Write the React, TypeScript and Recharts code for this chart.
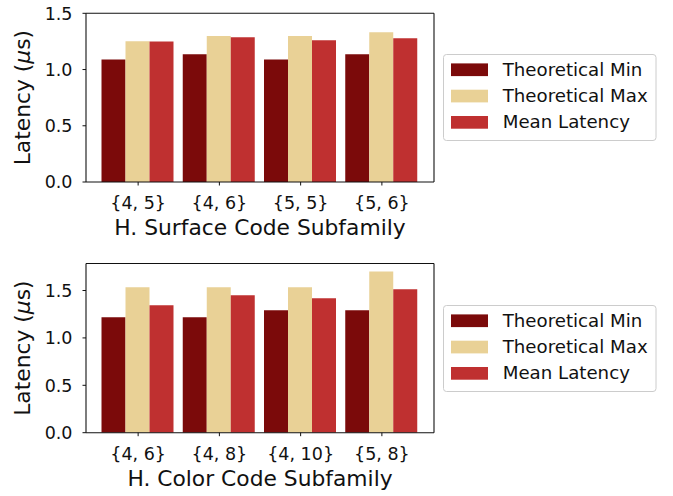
import React from "react";
import { BarChart, Bar, XAxis, YAxis } from "recharts";

const SURFACE_CATEGORIES = ["{4, 5}", "{4, 6}", "{5, 5}", "{5, 6}"];
const SURFACE_MIN = [1.09, 1.136, 1.09, 1.136];
const SURFACE_MAX = [1.251, 1.298, 1.298, 1.331];
const SURFACE_MEAN = [1.25, 1.287, 1.26, 1.278];

const COLOR_CATEGORIES = ["{4, 6}", "{4, 8}", "{4, 10}", "{5, 8}"];
const COLOR_MIN = [1.219, 1.219, 1.293, 1.293];
const COLOR_MAX = [1.535, 1.535, 1.535, 1.7];
const COLOR_MEAN = [1.345, 1.451, 1.419, 1.513];

const Y_TICKS = [0, 0.5, 1.0, 1.5];

const SERIES = [
  { key: "min", name: "Theoretical Min", color: "#7b0a0a" },
  { key: "max", name: "Theoretical Max", color: "#e9d196" },
  { key: "mean", name: "Mean Latency", color: "#bf3030" },
];

const FONT = "DejaVu Sans";

function LegendBox({ top }: { top: number }) {
  return (
    <svg
      width={215}
      height={88}
      style={{ position: "absolute", left: 443, top, overflow: "visible" }}
    >
      <rect x={0.5} y={0.5} width={212.5} height={86} rx={3} fill="#fff" stroke="#cccccc" />
      {SERIES.map((s, i) => {
        const c = 15.7 + i * 26.3;
        return (
          <g key={s.key}>
            <rect x={8} y={c - 6.3} width={37} height={12.7} fill={s.color} />
            <text x={59.7} y={c + 5.8} fontSize={18.2} fontFamily={FONT} fill="#111">
              {s.name}
            </text>
          </g>
        );
      })}
    </svg>
  );
}

type PanelProps = {
  categories: string[];
  min: number[];
  max: number[];
  mean: number[];
  yMax: number;
  xTitle: string;
  plotTop: number;
  plotBottom: number;
  top: number;
};

function Panel({ categories, min, max, mean, yMax, xTitle, plotTop, plotBottom, top }: PanelProps) {
  const data = categories.map((c, i) => ({ name: c, min: min[i], max: max[i], mean: mean[i] }));
  const H = 248;
  return (
    <div style={{ position: "absolute", left: 0, top, width: 673, height: H }}>
      <BarChart
        width={673}
        height={H}
        data={data}
        margin={{ top: plotTop - 1, right: 238, bottom: H - plotBottom - 50, left: 26 }}
        barGap={0}
        barCategoryGap={4}
      >
        <XAxis
          dataKey="name"
          height={50}
          padding={{ left: 11.5, right: 11.5 }}
          tick={{ fill: "#111", fontSize: 17.5, fontFamily: FONT }}
          tickLine={{ stroke: "#111" }}
          axisLine={{ stroke: "#111", strokeWidth: 1.1 }}
          tickSize={3.5}
          tickMargin={11}
          interval={0}
          label={{
            content: ({ viewBox }: any) => (
              <text
                x={viewBox.x + viewBox.width / 2}
                y={viewBox.y + 53}
                textAnchor="middle"
                fontSize={21.8}
                fontFamily={FONT}
                fill="#111"
              >
                {xTitle}
              </text>
            ),
          }}
        />
        <XAxis
          xAxisId="top"
          dataKey="name"
          orientation="top"
          height={1}
          tick={false}
          tickLine={false}
          axisLine={{ stroke: "#111", strokeWidth: 1.1 }}
        />
        <YAxis
          width={60}
          domain={[0, yMax]}
          ticks={Y_TICKS}
          allowDataOverflow
          tickFormatter={(v: number) => v.toFixed(1)}
          tick={{ fill: "#111", fontSize: 17.5, fontFamily: FONT }}
          tickLine={{ stroke: "#111" }}
          axisLine={{ stroke: "#111", strokeWidth: 1.1 }}
          tickSize={3.5}
          tickMargin={10}
          label={{
            content: ({ viewBox }: any) => {
              const cy = viewBox.y + viewBox.height / 2;
              return (
                <text
                  x={30.5}
                  y={cy}
                  transform={`rotate(-90, 30.5, ${cy})`}
                  textAnchor="middle"
                  fontSize={21.8}
                  fontFamily={FONT}
                  fill="#111"
                >
                  Latency (<tspan fontStyle="italic">μ</tspan>s)
                </text>
              );
            },
          }}
        />
        <YAxis
          yAxisId="right"
          orientation="right"
          width={1}
          domain={[0, yMax]}
          tick={false}
          tickLine={false}
          axisLine={{ stroke: "#111", strokeWidth: 1.1 }}
        />
        {SERIES.map((s) => (
          <Bar key={s.key} dataKey={s.key} name={s.name} fill={s.color} isAnimationActive={false} />
        ))}
      </BarChart>
    </div>
  );
}

export default function App() {
  return (
    <div style={{ position: "absolute", left: 0, top: 0, width: 673, height: 496, background: "#fff" }}>
      <Panel
        categories={SURFACE_CATEGORIES}
        min={SURFACE_MIN}
        max={SURFACE_MAX}
        mean={SURFACE_MEAN}
        yMax={1.5}
        xTitle="H. Surface Code Subfamily"
        plotTop={13.3}
        plotBottom={182}
        top={0}
      />
      <Panel
        categories={COLOR_CATEGORIES}
        min={COLOR_MIN}
        max={COLOR_MAX}
        mean={COLOR_MEAN}
        yMax={1.785}
        xTitle="H. Color Code Subfamily"
        plotTop={15.5}
        plotBottom={184.7}
        top={248}
      />
      <LegendBox top={54} />
      <LegendBox top={304.7} />
    </div>
  );
}
